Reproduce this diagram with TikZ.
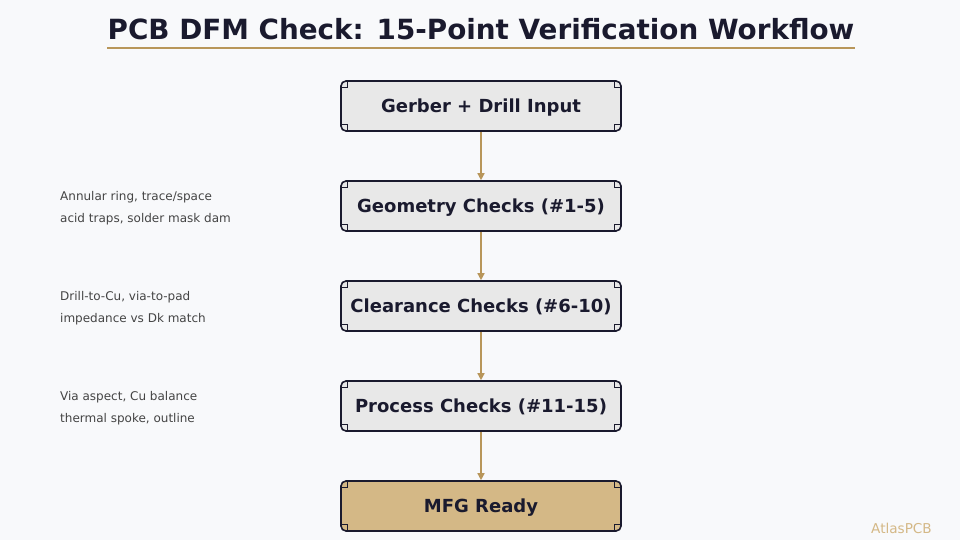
\documentclass[tikz,border=0pt]{standalone}
\usepackage{fontspec}
\setmainfont{DejaVu Sans}
\usetikzlibrary{arrows.meta}
\definecolor{bg}{HTML}{F8F9FB}
\definecolor{navy}{HTML}{1A1A2E}
\definecolor{gold}{HTML}{B8965A}
\definecolor{boxfill}{HTML}{E8E8E8}
\definecolor{tan}{HTML}{D4B886}
\definecolor{sidegray}{HTML}{444444}
\begin{document}
\begin{tikzpicture}[x=1pt,y=-1pt,
  stepbox/.style={draw=navy,line width=1.6pt,fill=boxfill,rounded corners=5pt,minimum width=280pt,minimum height=50pt,inner sep=0pt,text height=13pt,text depth=0pt,font=\bfseries\fontsize{18}{20}\selectfont,text=navy},
  endbox/.style={stepbox,fill=tan},
  flow/.style={draw=gold,line width=1.5pt,-{Triangle[length=7pt,width=7pt]}},
  side/.style={anchor=west,font=\fontsize{12}{22}\selectfont,text=sidegray,align=left,inner sep=0pt},
  notch/.style={draw=navy,line width=0.8pt}]
\fill[bg] (0,0) rectangle (960,540);
\useasboundingbox (0,0) rectangle (960,540);
\node[anchor=base,inner sep=0pt,font=\bfseries\fontsize{27.8}{30}\selectfont,text=navy] (title) at (481,39.3) {PCB DFM Check: 15-Point Verification Workflow};
\coordinate (ul) at (107,48);
\coordinate (ur) at (855,48);
\draw[gold,line width=1.8pt] (ul) -- (ur);
\node[stepbox] (n1) at (481,106) {Gerber + Drill Input};
\node[stepbox] (n2) at (481,206) {Geometry Checks (\#1-5)};
\node[stepbox] (n3) at (481,306) {Clearance Checks (\#6-10)};
\node[stepbox] (n4) at (481,406) {Process Checks (\#11-15)};
\node[endbox] (n5) at (481,506) {MFG Ready};
\foreach \n in {n1,n2,n3,n4,n5}{
  \draw[notch] ([shift={(0,7)}]\n.north west) -- ([shift={(7,7)}]\n.north west) -- ([shift={(7,0)}]\n.north west);
  \draw[notch] ([shift={(0,7)}]\n.north east) -- ([shift={(-7,7)}]\n.north east) -- ([shift={(-7,0)}]\n.north east);
  \draw[notch] ([shift={(0,-7)}]\n.south west) -- ([shift={(7,-7)}]\n.south west) -- ([shift={(7,0)}]\n.south west);
  \draw[notch] ([shift={(0,-7)}]\n.south east) -- ([shift={(-7,-7)}]\n.south east) -- ([shift={(-7,0)}]\n.south east);
}
\draw[flow] (n1) -- (n2);
\draw[flow] (n2) -- (n3);
\draw[flow] (n3) -- (n4);
\draw[flow] (n4) -- (n5);
\node[side] (s1) at (60,208) {Annular ring, trace/space\\acid traps, solder mask dam};
\node[side] (s2) at (60,308) {Drill-to-Cu, via-to-pad\\impedance vs Dk match};
\node[side] (s3) at (60,408) {Via aspect, Cu balance\\thermal spoke, outline};
\node[anchor=east,font=\fontsize{13.6}{14}\selectfont,text=tan,inner sep=0pt] (brand) at (932,528) {AtlasPCB};
\end{tikzpicture}
\end{document}
